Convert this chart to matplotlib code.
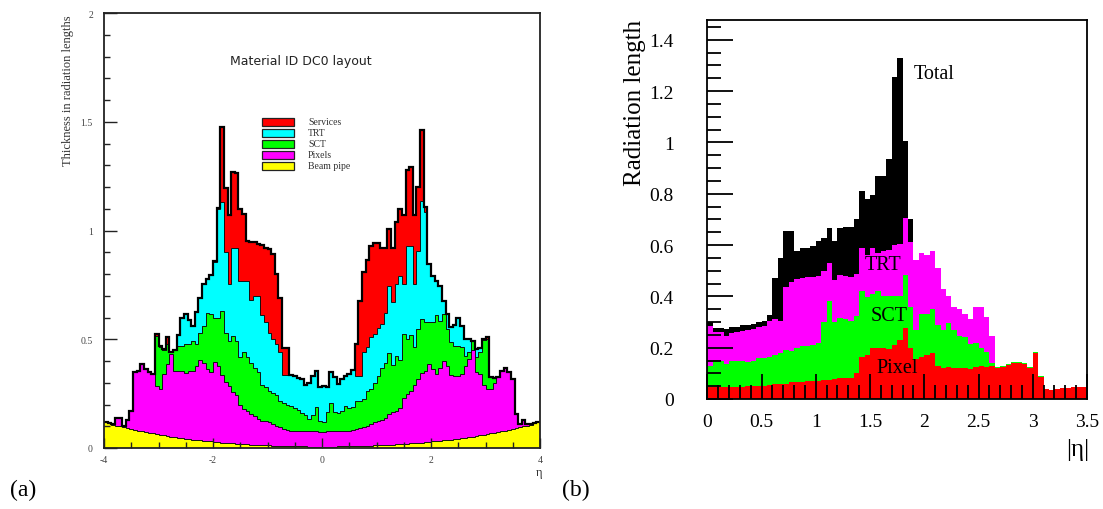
import numpy as np
import matplotlib
matplotlib.use("Agg")
import matplotlib.pyplot as plt
from matplotlib.patches import Rectangle

# ---------------- panel (a): cumulative layer tops, 120 bins in eta [-4, 4]
eta_a_range = (-4.0, 4.0)
beam_top = [
    0.118, 0.113, 0.108, 0.103, 0.099, 0.095, 0.091, 0.087, 0.083, 0.080,
    0.076, 0.073, 0.070, 0.067, 0.064, 0.061, 0.058, 0.055, 0.052, 0.050,
    0.047, 0.045, 0.043, 0.041, 0.039, 0.037, 0.035, 0.033, 0.031, 0.030,
    0.028, 0.027, 0.025, 0.024, 0.023, 0.021, 0.020, 0.019, 0.018, 0.017,
    0.016, 0.015, 0.014, 0.013, 0.012, 0.012, 0.011, 0.010, 0.010, 0.009,
    0.009, 0.008, 0.008, 0.007, 0.007, 0.007, 0.006, 0.006, 0.006, 0.006,
    0.006, 0.006, 0.006, 0.006, 0.007, 0.007, 0.007, 0.008, 0.008, 0.009,
    0.009, 0.010, 0.010, 0.011, 0.012, 0.012, 0.013, 0.014, 0.015, 0.016,
    0.017, 0.018, 0.019, 0.020, 0.021, 0.023, 0.024, 0.025, 0.027, 0.028,
    0.030, 0.031, 0.033, 0.035, 0.037, 0.039, 0.041, 0.043, 0.045, 0.047,
    0.050, 0.052, 0.055, 0.058, 0.061, 0.064, 0.067, 0.070, 0.073, 0.076,
    0.080, 0.083, 0.087, 0.091, 0.095, 0.099, 0.103, 0.108, 0.113, 0.118]
pixels_top = [
    0.120, 0.115, 0.110, 0.136, 0.136, 0.100, 0.130, 0.170, 0.350, 0.355,
    0.385, 0.365, 0.350, 0.340, 0.287, 0.270, 0.340, 0.386, 0.430, 0.355,
    0.355, 0.355, 0.345, 0.355, 0.355, 0.378, 0.406, 0.390, 0.363, 0.350,
    0.394, 0.378, 0.335, 0.305, 0.283, 0.256, 0.245, 0.198, 0.180, 0.169,
    0.156, 0.149, 0.133, 0.126, 0.122, 0.118, 0.110, 0.100, 0.095, 0.087,
    0.085, 0.080, 0.080, 0.079, 0.078, 0.077, 0.077, 0.076, 0.076, 0.075,
    0.075, 0.076, 0.077, 0.077, 0.078, 0.078, 0.079, 0.080, 0.082, 0.087,
    0.090, 0.095, 0.100, 0.110, 0.118, 0.125, 0.130, 0.140, 0.155, 0.165,
    0.170, 0.185, 0.230, 0.250, 0.260, 0.290, 0.317, 0.345, 0.356, 0.386,
    0.363, 0.340, 0.366, 0.400, 0.378, 0.335, 0.333, 0.333, 0.340, 0.378,
    0.410, 0.450, 0.350, 0.340, 0.290, 0.270, 0.270, 0.300, 0.325, 0.356,
    0.366, 0.350, 0.317, 0.156, 0.110, 0.130, 0.110, 0.110, 0.115, 0.120]
sct_top = [
    0.120, 0.115, 0.110, 0.136, 0.136, 0.100, 0.130, 0.170, 0.350, 0.355,
    0.385, 0.365, 0.350, 0.340, 0.515, 0.465, 0.450, 0.480, 0.440, 0.450,
    0.470, 0.470, 0.480, 0.480, 0.490, 0.480, 0.530, 0.560, 0.620, 0.615,
    0.600, 0.600, 0.630, 0.530, 0.490, 0.515, 0.490, 0.420, 0.440, 0.420,
    0.390, 0.370, 0.350, 0.290, 0.280, 0.260, 0.255, 0.245, 0.215, 0.205,
    0.200, 0.195, 0.185, 0.175, 0.160, 0.150, 0.135, 0.150, 0.190, 0.125,
    0.120, 0.165, 0.207, 0.167, 0.160, 0.170, 0.195, 0.185, 0.190, 0.217,
    0.217, 0.225, 0.264, 0.270, 0.300, 0.333, 0.370, 0.390, 0.437, 0.380,
    0.425, 0.406, 0.524, 0.500, 0.520, 0.463, 0.547, 0.593, 0.580, 0.580,
    0.580, 0.611, 0.585, 0.616, 0.547, 0.486, 0.470, 0.470, 0.463, 0.425,
    0.440, 0.490, 0.417, 0.440, 0.495, 0.500, 0.325, 0.320, 0.325, 0.356,
    0.366, 0.350, 0.317, 0.156, 0.110, 0.130, 0.110, 0.110, 0.115, 0.120]
trt_top = [
    0.120, 0.115, 0.110, 0.136, 0.136, 0.100, 0.130, 0.170, 0.350, 0.355,
    0.385, 0.365, 0.350, 0.340, 0.515, 0.465, 0.450, 0.480, 0.440, 0.450,
    0.520, 0.600, 0.615, 0.590, 0.560, 0.625, 0.690, 0.755, 0.775, 0.795,
    0.855, 1.100, 1.130, 0.900, 0.755, 0.920, 0.920, 0.770, 0.770, 0.770,
    0.680, 0.700, 0.700, 0.610, 0.580, 0.530, 0.500, 0.480, 0.440, 0.335,
    0.335, 0.335, 0.330, 0.320, 0.317, 0.290, 0.300, 0.333, 0.356, 0.280,
    0.287, 0.280, 0.348, 0.325, 0.295, 0.317, 0.333, 0.340, 0.360, 0.330,
    0.330, 0.440, 0.465, 0.510, 0.525, 0.550, 0.570, 0.620, 0.745, 0.670,
    0.755, 0.790, 0.755, 0.930, 0.930, 0.755, 0.905, 1.135, 1.085, 0.846,
    0.790, 0.770, 0.746, 0.677, 0.616, 0.555, 0.565, 0.600, 0.560, 0.500,
    0.500, 0.490, 0.455, 0.460, 0.495, 0.500, 0.325, 0.320, 0.325, 0.356,
    0.366, 0.350, 0.317, 0.156, 0.110, 0.130, 0.110, 0.110, 0.115, 0.120]
services_top = [
    0.120, 0.115, 0.110, 0.136, 0.136, 0.100, 0.130, 0.170, 0.350, 0.355,
    0.385, 0.365, 0.350, 0.340, 0.525, 0.470, 0.455, 0.510, 0.440, 0.450,
    0.520, 0.600, 0.615, 0.590, 0.560, 0.625, 0.690, 0.755, 0.775, 0.795,
    0.860, 1.105, 1.475, 1.195, 1.070, 1.270, 1.265, 1.100, 1.075, 0.950,
    0.945, 0.945, 0.940, 0.935, 0.920, 0.915, 0.890, 0.800, 0.690, 0.460,
    0.460, 0.335, 0.330, 0.320, 0.317, 0.290, 0.300, 0.333, 0.356, 0.280,
    0.287, 0.280, 0.348, 0.325, 0.295, 0.317, 0.333, 0.340, 0.360, 0.478,
    0.677, 0.810, 0.866, 0.930, 0.943, 0.943, 0.920, 0.920, 1.007, 0.920,
    1.040, 1.100, 1.070, 1.280, 1.290, 1.070, 1.200, 1.464, 1.107, 0.846,
    0.790, 0.770, 0.746, 0.677, 0.616, 0.555, 0.565, 0.600, 0.560, 0.500,
    0.500, 0.490, 0.455, 0.460, 0.500, 0.510, 0.325, 0.320, 0.325, 0.356,
    0.366, 0.350, 0.317, 0.156, 0.110, 0.130, 0.110, 0.110, 0.115, 0.120]
legend_labels_a = ["Services", "TRT", "SCT", "Pixels", "Beam pipe"]
legend_colors_a = ["#ff0000", "#00ffff", "#00ff00", "#ff00ff", "#ffff00"]
xticks_a = [-4, -2, 0, 2, 4]
xticklabels_a = ["-4", "-2", "0", "2", "4"]
yticks_a = [0, 0.5, 1, 1.5, 2]
yticklabels_a = ["0", "0.5", "1", "1.5", "2"]

# ---------------- panel (b): cumulative tops, 70 bins in |eta| [0, 3.5]
eta_b_range = (0.0, 3.5)
total_b = [
    0.300, 0.278, 0.278, 0.273, 0.280, 0.280, 0.288, 0.288, 0.292, 0.300,
    0.305, 0.327, 0.470, 0.550, 0.656, 0.656, 0.578, 0.590, 0.588, 0.597,
    0.614, 0.626, 0.666, 0.617, 0.668, 0.670, 0.670, 0.700, 0.810, 0.780,
    0.795, 0.868, 0.868, 0.935, 1.256, 1.330, 1.007, 0.700, 0.540, 0.570,
    0.560, 0.575, 0.510, 0.430, 0.400, 0.360, 0.350, 0.330, 0.310, 0.360,
    0.360, 0.320, 0.245, 0.123, 0.128, 0.137, 0.143, 0.143, 0.140, 0.125,
    0.183, 0.090, 0.039, 0.037, 0.039, 0.041, 0.043, 0.045, 0.047, 0.047]
trt_b = [
    0.283, 0.262, 0.260, 0.247, 0.258, 0.260, 0.266, 0.268, 0.273, 0.280,
    0.286, 0.305, 0.312, 0.305, 0.435, 0.455, 0.468, 0.470, 0.474, 0.474,
    0.480, 0.500, 0.530, 0.465, 0.483, 0.480, 0.474, 0.487, 0.590, 0.560,
    0.590, 0.570, 0.578, 0.580, 0.600, 0.605, 0.705, 0.610, 0.540, 0.570,
    0.560, 0.575, 0.510, 0.430, 0.400, 0.360, 0.350, 0.330, 0.310, 0.360,
    0.360, 0.320, 0.245, 0.123, 0.128, 0.137, 0.143, 0.143, 0.140, 0.125,
    0.183, 0.090, 0.039, 0.037, 0.039, 0.041, 0.043, 0.045, 0.047, 0.047]
sct_b = [
    0.130, 0.153, 0.147, 0.136, 0.150, 0.150, 0.150, 0.143, 0.150, 0.158,
    0.160, 0.165, 0.170, 0.180, 0.190, 0.186, 0.200, 0.205, 0.205, 0.210,
    0.217, 0.300, 0.380, 0.300, 0.316, 0.312, 0.305, 0.325, 0.420, 0.396,
    0.410, 0.420, 0.403, 0.400, 0.400, 0.400, 0.485, 0.357, 0.270, 0.330,
    0.330, 0.350, 0.290, 0.270, 0.295, 0.270, 0.245, 0.240, 0.215, 0.220,
    0.200, 0.185, 0.140, 0.123, 0.128, 0.137, 0.143, 0.143, 0.140, 0.125,
    0.183, 0.090, 0.039, 0.037, 0.039, 0.041, 0.043, 0.045, 0.047, 0.047]
pixel_b = [
    0.045, 0.046, 0.046, 0.047, 0.047, 0.048, 0.048, 0.049, 0.050, 0.050,
    0.052, 0.055, 0.058, 0.060, 0.060, 0.065, 0.065, 0.068, 0.070, 0.070,
    0.072, 0.075, 0.075, 0.078, 0.080, 0.080, 0.082, 0.100, 0.165, 0.170,
    0.200, 0.200, 0.200, 0.195, 0.210, 0.230, 0.275, 0.200, 0.155, 0.165,
    0.170, 0.180, 0.130, 0.120, 0.123, 0.120, 0.120, 0.120, 0.117, 0.123,
    0.130, 0.126, 0.130, 0.120, 0.123, 0.134, 0.140, 0.140, 0.136, 0.120,
    0.180, 0.085, 0.039, 0.037, 0.039, 0.041, 0.043, 0.045, 0.047, 0.047]
labels_b = ["Total", "TRT", "SCT", "Pixel"]
colors_b = ["#000000", "#ff00ff", "#00ff00", "#ff0000"]
xticks_b = [0, 0.5, 1, 1.5, 2, 2.5, 3, 3.5]
xticklabels_b = ["0", "0.5", "1", "1.5", "2", "2.5", "3", "3.5"]
yticks_b = [0, 0.2, 0.4, 0.6, 0.8, 1.0, 1.2, 1.4]
yticklabels_b = ["0", "0.2", "0.4", "0.6", "0.8", "1", "1.2", "1.4"]

# ---------------- figure
W, H = 1103, 510
SERIF = ["Liberation Serif", "DejaVu Serif"]
plt.rcParams["font.family"] = SERIF
fig = plt.figure(figsize=(W / 100, H / 100), dpi=100)


def axes_px(l, t, r, b):
    return fig.add_axes([l / W, 1 - b / H, (r - l) / W, (b - t) / H])


# ----- panel (a)
ax = axes_px(104, 14, 540, 449)
edges_a = np.linspace(eta_a_range[0], eta_a_range[1], len(services_top) + 1)
layers_a = [services_top, trt_top, sct_top, pixels_top, beam_top]
for vals, col in zip(layers_a, legend_colors_a):
    ax.stairs(vals, edges_a, fill=True, color=col, lw=0)
for vals in layers_a[1:]:
    ax.stairs(vals, edges_a, color="#111111", lw=0.7, baseline=None)
ax.stairs(services_top, edges_a, color="#000000", lw=1.6, baseline=None)
ax.set_xlim(*eta_a_range)
ax.set_ylim(0, 2)
ax.set_axisbelow(False)
ax.set_xticks(xticks_a)
ax.set_xticklabels(xticklabels_a)
ax.set_xticks(np.arange(-4, 4.01, 0.5), minor=True)
ax.set_yticks(yticks_a)
ax.set_yticklabels(yticklabels_a)
ax.set_yticks(np.arange(0, 2.001, 0.1), minor=True)
ax.tick_params(axis="both", which="both", direction="in", colors="#222222",
               labelcolor="#444444", labelsize=7, width=1.0)
ax.tick_params(axis="y", which="major", length=9, pad=8)
ax.tick_params(axis="y", which="minor", length=4.5)
ax.tick_params(axis="x", which="major", length=7, pad=5)
ax.tick_params(axis="x", which="minor", length=4.5)
for s in ax.spines.values():
    s.set_linewidth(1.3)
    s.set_color("#222222")
ax.text(-0.385, 1.78, "Material ID DC0 layout", ha="center", va="center",
        fontsize=9, family="DejaVu Sans", color="#222222")
# legend
box_x0, box_x1 = -1.106, -0.508
row_y = [1.500, 1.450, 1.399, 1.349, 1.298]
for y, lab, col in zip(row_y, legend_labels_a, legend_colors_a):
    ax.add_patch(Rectangle((box_x0, y - 0.018), box_x1 - box_x0, 0.036,
                           facecolor=col, edgecolor="#222222", lw=0.9))
    ax.text(-0.257, y, lab, ha="left", va="center", fontsize=7,
            color="#333333")
fig.text(68 / W, 1 - 15 / H, "Thickness in radiation lengths", rotation=90,
         ha="center", va="top", fontsize=9, color="#333333")
fig.text(539 / W, 1 - 473 / H, "η", ha="center", va="center", fontsize=9,
         color="#333333")
fig.text(23 / W, 1 - 490 / H, "(a)", ha="center", va="center", fontsize=17)

# ----- panel (b)
bx = axes_px(707.3, 20.7, 1087, 400)
edges_b = np.linspace(eta_b_range[0], eta_b_range[1], len(total_b) + 1)
for vals, col in zip([total_b, trt_b, sct_b, pixel_b], colors_b):
    bx.stairs(vals, edges_b, fill=True, color=col, lw=0)
bx.set_xlim(*eta_b_range)
bx.set_ylim(0, 1.478)
bx.set_axisbelow(False)
bx.set_xticks(xticks_b)
bx.set_xticklabels(xticklabels_b)
bx.set_xticks(np.arange(0, 3.501, 0.1), minor=True)
bx.set_yticks(yticks_b)
bx.set_yticklabels(yticklabels_b)
bx.set_yticks(np.arange(0, 1.451, 0.05), minor=True)
bx.tick_params(axis="both", which="both", direction="in", labelsize=14,
               width=1.3, colors="black")
bx.tick_params(axis="y", which="major", length=19, pad=24)
bx.tick_params(axis="y", which="minor", length=10)
bx.tick_params(axis="x", which="major", length=18, pad=10)
bx.tick_params(axis="x", which="minor", length=10)
for s in bx.spines.values():
    s.set_linewidth(1.3)
label_pos_b = [(1.90, 1.27), (1.45, 0.523), (1.51, 0.325), (1.555, 0.123)]
for (x, y), lab in zip(label_pos_b, labels_b):
    bx.text(x, y, lab, ha="left", va="center", fontsize=14.5, color="black")
fig.text(635 / W, 1 - 20 / H, "Radiation length", rotation=90, ha="center",
         va="top", fontsize=18)
fig.text(1078 / W, 1 - 450 / H, "|η|", ha="center", va="center", fontsize=18)
fig.text(576 / W, 1 - 490 / H, "(b)", ha="center", va="center", fontsize=17)

fig.savefig("out.png", dpi=100)
